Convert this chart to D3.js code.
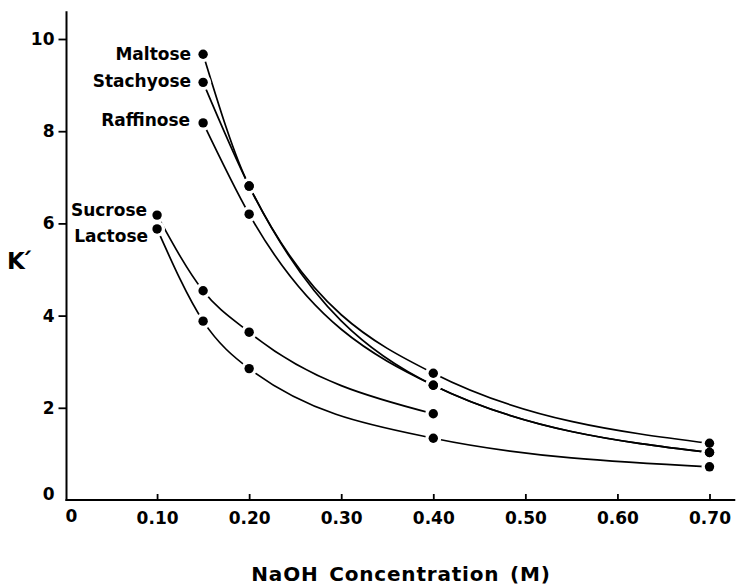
<!DOCTYPE html>
<html>
<head>
<meta charset="utf-8">
<script src="https://cdn.jsdelivr.net/npm/d3@7"></script>
<style>
  html, body { margin: 0; padding: 0; background: #fff; }
  svg { display: block; }
  text { font-family: "DejaVu Sans", sans-serif; font-weight: bold; fill: #000; }
</style>
</head>
<body>
<svg id="chart" width="738" height="586"></svg>
<script>
// ---- data ----
const naoh = [0.10, 0.15, 0.20, 0.40, 0.70];
const seriesNames = ["Maltose", "Stachyose", "Raffinose", "Sucrose", "Lactose"];
const maltose   = [null, 9.67, 6.81, 2.75, 1.23];
const stachyose = [null, 9.06, 6.81, 2.49, 1.03];
const raffinose = [null, 8.18, 6.20, 2.49, 1.03];
const sucrose   = [6.18, 4.54, 3.64, 1.87, null];
const lactose   = [5.88, 3.88, 2.85, 1.34, 0.72];
const xTickValues = [0, 0.1, 0.2, 0.3, 0.4, 0.5, 0.6, 0.7];
const xTickLabels = ["0", "0.10", "0.20", "0.30", "0.40", "0.50", "0.60", "0.70"];
const yTickValues = [0, 2, 4, 6, 8, 10];
const yTickLabels = ["0", "2", "4", "6", "8", "10"];
const xTitle = "NaOH Concentration (M)";
const yTitle = "K\u00B4";

// ---- layout (styles/positions, not data) ----
const labelOffsets = {
  Maltose:   { dx: -12, dy: 0 },
  Stachyose: { dx: -12, dy: -1 },
  Raffinose: { dx: -13, dy: -3 },
  Sucrose:   { dx: -10, dy: -5 },
  Lactose:   { dx: -9,  dy: 7 }
};

const svg = d3.select("#chart");
const x = d3.scaleLinear().domain([0, 0.7]).range([65, 709.5]);
const y = d3.scaleLinear().domain([0, 10]).range([500, 39]);

const allSeries = [maltose, stachyose, raffinose, sucrose, lactose].map((vals, i) => ({
  name: seriesNames[i],
  points: naoh.map((c, j) => ({ c, v: vals[j] })).filter(p => p.v != null)
}));

// axes lines
const axisX0 = x(0) + 1.5;
svg.append("line")
  .attr("x1", axisX0).attr("x2", axisX0)
  .attr("y1", y(10.6)).attr("y2", y(0) + 1)
  .attr("stroke", "#000").attr("stroke-width", 2);
svg.append("line")
  .attr("x1", axisX0 - 1).attr("x2", x(0.728))
  .attr("y1", y(0)).attr("y2", y(0))
  .attr("stroke", "#000").attr("stroke-width", 2);

// x axis ticks (inward)
const xAxis = d3.axisBottom(x)
  .tickValues(xTickValues)
  .tickFormat((d, i) => xTickLabels[i])
  .tickSize(-6)
  .tickPadding(12);
const gx = svg.append("g").attr("transform", `translate(0,${y(0)})`).call(xAxis);
gx.select(".domain").remove();
gx.selectAll("line").attr("stroke", "#000").attr("stroke-width", 1.8);
gx.selectAll(".tick").filter(d => d === 0).select("line").remove();
gx.selectAll(".tick").filter(d => d === 0).select("text").attr("dx", 6).attr("y", 10);
gx.selectAll("text").attr("font-size", 17).attr("font-family", "DejaVu Sans").attr("font-weight", "bold").attr("fill", "#000");

// y axis
const yAxis = d3.axisLeft(y)
  .tickValues(yTickValues)
  .tickFormat((d, i) => yTickLabels[i])
  .tickSize(8)
  .tickPadding(4);
const gy = svg.append("g").attr("transform", `translate(${axisX0},0)`).call(yAxis);
gy.select(".domain").remove();
gy.selectAll("line").attr("stroke", "#000").attr("stroke-width", 1.8);
gy.selectAll(".tick").filter(d => d === 0).select("line").remove();
gy.selectAll(".tick").filter(d => d === 0).select("text").attr("dy", "-0.05em");
gy.selectAll("text").attr("font-size", 17).attr("font-family", "DejaVu Sans").attr("font-weight", "bold").attr("fill", "#000");

// curves
const line = d3.line()
  .x(d => x(d.c))
  .y(d => y(d.v))
  .curve(d3.curveMonotoneX);
svg.append("g").selectAll("path")
  .data(allSeries)
  .join("path")
  .attr("d", d => line(d.points))
  .attr("fill", "none")
  .attr("stroke", "#000")
  .attr("stroke-width", 1.7);

// halos then dots
const allPts = allSeries.flatMap(s => s.points);
svg.append("g").selectAll("circle")
  .data(allPts)
  .join("circle")
  .attr("cx", d => x(d.c)).attr("cy", d => y(d.v))
  .attr("r", 8).attr("fill", "#fff");
svg.append("g").selectAll("circle")
  .data(allPts)
  .join("circle")
  .attr("cx", d => x(d.c)).attr("cy", d => y(d.v))
  .attr("r", 4.7).attr("fill", "#000");

// series labels
svg.append("g").selectAll("text")
  .data(allSeries)
  .join("text")
  .attr("x", d => x(d.points[0].c) + labelOffsets[d.name].dx)
  .attr("y", d => y(d.points[0].v) + labelOffsets[d.name].dy)
  .attr("dy", "0.36em")
  .attr("text-anchor", "end")
  .attr("font-size", 17)
  .text(d => d.name);

// axis titles
svg.append("text")
  .attr("x", 401).attr("y", 581)
  .attr("text-anchor", "middle")
  .attr("font-size", 20)
  .attr("letter-spacing", 0.8)
  .attr("word-spacing", 3)
  .text(xTitle);
svg.append("text")
  .attr("x", 7).attr("y", 269)
  .attr("font-size", 23)
  .attr("letter-spacing", -4)
  .text(yTitle);
</script>
</body>
</html>
